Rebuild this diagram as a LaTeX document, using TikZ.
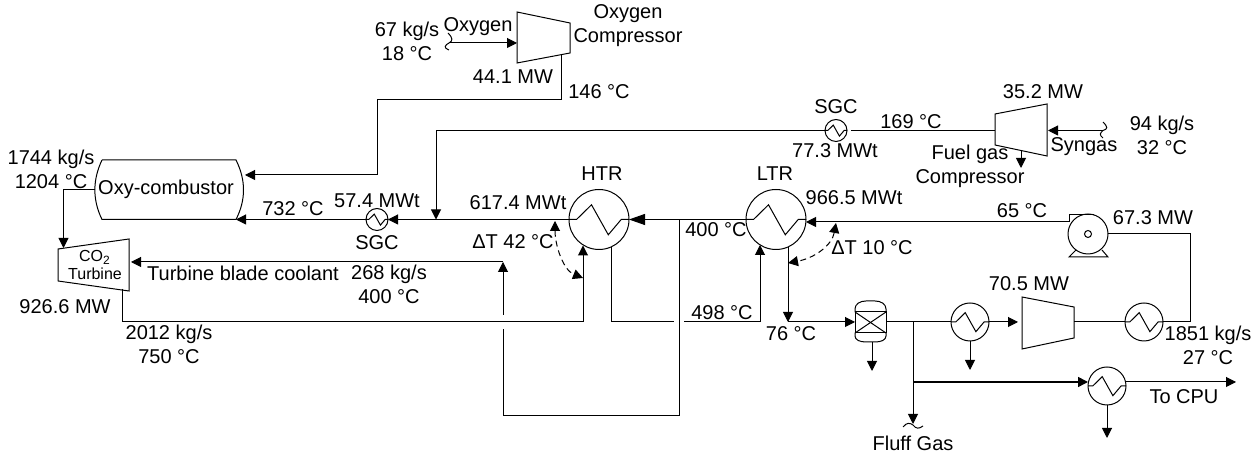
\documentclass[tikz,border=0pt]{standalone}
\usepackage{fontspec}
\setmainfont{Liberation Sans}
\usetikzlibrary{calc, arrows.meta}

\tikzset{
    pipe/.style={line width=0.5pt},
    flow/.style={pipe, -{Triangle[length=5pt,width=5pt]}},
    flowbig/.style={pipe, -{Triangle[length=8pt,width=5.5pt]}},
    deltaflow/.style={pipe, dash pattern=on 3pt off 2pt, {Triangle[length=5pt,width=5pt]}-{Triangle[length=5pt,width=5pt]}},
    hxshell/.style={circle, draw, pipe, inner sep=0pt, outer sep=0pt},
    lbl/.style={align=center, inner sep=0pt, font=\fontsize{10}{12}\selectfont},
    lblsmall/.style={align=center, inner sep=0pt, font=\fontsize{8}{9}\selectfont},
}

\begin{document}
\begin{tikzpicture}[x=0.5pt, y=-0.5pt]
    \useasboundingbox (0,0) rectangle (1260,458);

    % heat exchangers
    \foreach \n/\x/\y/\r in {htr/599/219.5/30, ltr/776/219.5/30, sgcb/377/219.5/11, sgca/836/130.5/11,
        coola/970/322/19, coolb/1144/322/19, coolc/1107/386/19} {
        \node[hxshell, minimum size=\r pt] (\n) at (\x,\y) {};
        \draw[pipe] (\n.west) -- ++(.25*\r,0) -- ++(.5*\r,-.49*\r) -- ++(.56*\r,\r) -- ++(.43*\r,-.51*\r) -- (\n.east);
    }

    % oxygen compressor
    \coordinate (oca) at (517,12);
    \coordinate (ocb) at (570,23);
    \coordinate (occ) at (570,53);
    \coordinate (ocd) at (517,63);
    \coordinate (ocin) at (449,43);
    \coordinate (ocinb) at (517,43);
    \coordinate (ocout) at (561,55);
    \draw[pipe] (oca) -- (ocb) -- (occ) -- (ocd) -- cycle;
    \draw[flow] (ocin) -- (ocinb);
    \draw[pipe] (448,33) .. controls (453,38) and (453,41) .. (ocin) .. controls (445,45) and (443,48) .. (449,50);

    % oxy-combustor
    \coordinate (oxyNW) at (102,160);
    \coordinate (oxyNE) at (236,160);
    \coordinate (oxySE) at (236,219.5);
    \coordinate (oxySW) at (102,219.5);
    \coordinate (oxyW) at (95,190);
    \coordinate (oxyin) at (245,175);
    \draw[pipe] (oxyNW) -- (oxyNE) .. controls (246,180) and (246,200) .. (oxySE) -- (oxySW)
        .. controls (92.5,200) and (92.5,180) .. (oxyNW);
    \draw[flow] (ocout) |- (377,100) |- (oxyin);

    % CO2 turbine
    \coordinate (tua) at (58,249);
    \coordinate (tub) at (129,239);
    \coordinate (tuc) at (129,291);
    \coordinate (tud) at (58,281);
    \draw[pipe] (tua) -- (tub) -- (tuc) -- (tud) -- cycle;
    \draw[flow] (oxyW) -| (63.5,248);

    % fuel gas compressor
    \coordinate (fca) at (995,114);
    \coordinate (fcb) at (1047,104);
    \coordinate (fcc) at (1047,156);
    \coordinate (fcd) at (995,145);
    \coordinate (fcin) at (1103,130.5);
    \coordinate (fcinb) at (1048,130.5);
    \coordinate (fcout) at (995,130.5);
    \draw[pipe] (fca) -- (fcb) -- (fcc) -- (fcd) -- cycle;
    \draw[flow] (fcin) -- (fcinb);
    \draw[flow] (1021,150.5) -- (1021,168);
    \draw[pipe] (1103,122) .. controls (1108,127) and (1108,129) .. (fcin) .. controls (1100,133) and (1099,135) .. (1103,138);
    \draw[pipe] (fcout) -- (851,130.5);
    \draw[flow] (sgca.west) -| (436,219.5);

    % main loop around the recuperators
    \draw[flow] (htr.west) -- (sgcb.east);
    \draw[flow] (sgcb.west) -- (oxySE);
    \draw[flowbig] (ltr.west) -- (htr.east);

    \coordinate (tuout) at (122,289);
    \coordinate (htrin) at (583,245.5);
    \coordinate (htrout) at (611,247);
    \coordinate (ltrin) at (760,245);
    \coordinate (ltrout) at (788,247);
    \coordinate (split) at (679,219.5);
    \draw[flow] (tuout) |- (583,322) -- (htrin);
    \draw[pipe] (htrout) |- (674,322);
    \draw[flow] (684,322) -| (ltrin);

    % blade coolant with the gap at the crossing
    \draw[pipe] (split) |- (503,416) -- (503,329);
    \draw[flow] (503,315) -- (503,262);
    \draw[flow] (503,262) -- (131,262);

    % approach temperature marks
    \draw[deltaflow] (555,221) .. controls (555,245) and (563,270) .. (583,278);
    \draw[deltaflow] (836,223) .. controls (832,245) and (815,258) .. (788,263);

    % separator
    \node[draw, pipe, minimum width=15.5pt, minimum height=10.5pt, inner sep=0pt, outer sep=0pt] (sep) at (870.5,322.5) {};
    \draw[pipe] (sep.north west) -- (sep.south east);
    \draw[pipe] (sep.north east) -- (sep.south west);
    \draw[pipe] (sep.north west) -- (855,309) .. controls (855,304) and (860,301) .. (866,301) -- (875,301)
        .. controls (881,301) and (886,304) .. (886,309) -- (sep.north east);
    \draw[pipe] (sep.south west) -- (855,336) .. controls (855,340) and (860,342) .. (866,342) -- (875,342)
        .. controls (881,342) and (886,340) .. (886,336) -- (sep.south east);
    \coordinate (sepin) at (855,322);
    \coordinate (sepout) at (886,322);
    \coordinate (tee) at (913,322);
    \draw[flow] (ltrout) -- (788,322);
    \draw[flow] (788,322) -- (sepin);
    \draw[flow] (872,342) -- (872,371);
    \draw[pipe] (sepout) -- (coola.west);

    % CO2 compressor
    \coordinate (cca) at (1022,297);
    \coordinate (ccb) at (1074,307);
    \coordinate (ccc) at (1074,338);
    \coordinate (ccd) at (1022,349);
    \coordinate (ccin) at (1018,322);
    \coordinate (ccout) at (1074,322);
    \draw[pipe] (cca) -- (ccb) -- (ccc) -- (ccd) -- cycle;
    \draw[flow] (coola.east) -- (ccin);
    \draw[pipe] (ccout) -- (coolb.west);
    \draw[flow] (coola.south) -- (970,370);

    % branch to CPU and fluff gas
    \coordinate (cpuin) at (1088,382);
    \coordinate (cpuout) at (1236,382);
    \draw[flow] (tee) -- (913,424);
    \draw[pipe] (903,427) .. controls (907,422) and (910,423) .. (913,425) .. controls (916,429) and (919,429) .. (923,426);
    \draw[flow, line width=0.8pt] (913,382) -- (cpuin);
    \draw[flow] (1126,382) -- (cpuout);
    \draw[flow] (coolc.south) -- (1107,438);

    % pump
    \node[hxshell, minimum size=20pt] (pump) at (1088,234) {};
    \node[hxshell, minimum size=3.5pt] (pumpeye) at (1088,234) {};
    \draw[pipe] (1069,222) -- (1069,214.3) -- (1094,214.3);
    \draw[pipe] (1076,250) -- (1069,257) -- (1108,257) -- (1102,250);
    \draw[flow] (1069,222) -- (806,222);
    \draw[pipe] (coolb.east) -| (1190.5,234) -- (pump.east);

    % labels
    \node[lbl] (l67) at (407,41) {67 kg/s\\18 °C};
    \node[lbl] (lox) at (478,27) {Oxygen};
    \node[lbl] (loc) at (628,26) {Oxygen\\Compressor};
    \node[lbl] (l441) at (513,77) {44.1 MW};
    \node[lbl] (l146) at (599,92) {146 °C};
    \node[lbl] (l352) at (1043,92) {35.2 MW};
    \node[lbl] (l94) at (1162,135.5) {94 kg/s\\32 °C};
    \node[lbl] (lsyn) at (1084,147) {Syngas};
    \node[lbl] (lfc) at (970,166) {Fuel gas\\Compressor};
    \node[lbl] (l169) at (911,122) {169 °C};
    \node[lbl] (lsgca) at (836,107) {SGC};
    \node[lbl] (l773) at (835,151) {77.3 MWt};
    \node[lbl] (lhtr) at (602,174) {HTR};
    \node[lbl] (lltr) at (775,174) {LTR};
    \node[lbl] (l617) at (518,203) {617.4 MWt};
    \node[lbl] (l966) at (854,198) {966.5 MWt};
    \node[lbl] (l65) at (1022,211) {65 °C};
    \node[lbl] (l673) at (1153,218) {67.3 MW};
    \node[lbl] (ldt10) at (872,248) {ΔT 10 °C};
    \node[lbl] (ldt42) at (513,242) {ΔT 42 °C};
    \node[lbl] (l400) at (716,230) {400 °C};
    \node[lbl] (l498) at (722,313) {498 °C};
    \node[lbl] (l76) at (791,334) {76 °C};
    \node[lbl] (l705) at (1029,284) {70.5 MW};
    \node[lbl] (l1851) at (1208,345.5) {1851 kg/s\\27 °C};
    \node[lbl] (lcpu) at (1184,397) {To CPU};
    \node[lbl] (lfluff) at (913,443) {Fluff Gas};
    \node[lbl] (l1744) at (51,169.5) {1744 kg/s\\1204 °C};
    \node[lbl] (loxy) at (166,189) {Oxy-combustor};
    \node[lbl] (l732) at (293,209) {732 °C};
    \node[lbl] (l574) at (377,201) {57.4 MWt};
    \node[lbl] (lsgcb) at (377,243) {SGC};
    \node[lblsmall] (ltu) at (95,265) {CO\textsubscript{2}\\Turbine};
    \node[lbl] (lcool) at (243,273) {Turbine blade coolant};
    \node[lbl] (l268) at (389,284.5) {268 kg/s\\400 °C};
    \node[lbl] (l926) at (65,307) {926.6 MW};
    \node[lbl] (l2012) at (169,344.5) {2012 kg/s\\750 °C};
\end{tikzpicture}
\end{document}
